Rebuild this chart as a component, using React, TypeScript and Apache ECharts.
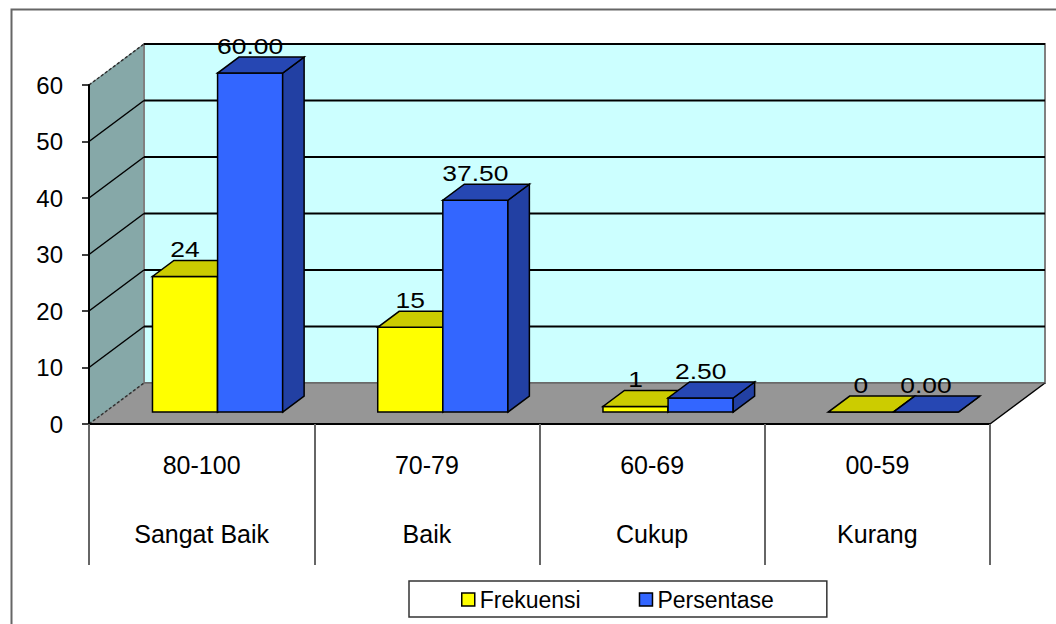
import React, { useEffect, useRef } from "react";
import * as echarts from "echarts";

const categories = ["80-100", "70-79", "60-69", "00-59"];
const categoryNames = ["Sangat Baik", "Baik", "Cukup", "Kurang"];
const frekuensi = [24, 15, 1, 0];
const persentase = [60, 37.5, 2.5, 0];
const yTicks = [0, 10, 20, 30, 40, 50, 60];

const FONT = "'Liberation Sans', Arial, sans-serif";
const DX = 55;
const DY = -41;
const D0 = 0.29;
const D1 = 0.68;
const BAR_FRAC = 0.289;

function wallsRender(params: any, api: any) {
  const cs = params.coordSys;
  const x0 = cs.x;
  const x1 = cs.x + cs.width;
  const yTop = api.coord([0, 60])[1];
  const yBot = api.coord([0, 0])[1];
  return {
    type: "group",
    children: [
      {
        type: "polygon",
        shape: { points: [[x0, yBot], [x0, yTop], [x0 + DX, yTop + DY], [x0 + DX, yBot + DY]] },
        style: { fill: "#86A8A8", stroke: "#6A8888", lineWidth: 1 },
      },
      {
        type: "rect",
        shape: { x: x0 + DX, y: yTop + DY, width: x1 - x0, height: yBot - yTop },
        style: { fill: "#CCFFFF", stroke: "#808080", lineWidth: 2 },
      },
      {
        type: "polygon",
        shape: { points: [[x0, yBot], [x1, yBot], [x1 + DX, yBot + DY], [x0 + DX, yBot + DY]] },
        style: { fill: "#969696" },
      },
      {
        type: "line",
        shape: { x1: x1, y1: yBot, x2: x1 + DX, y2: yBot + DY },
        style: { stroke: "#000", lineWidth: 1.5 },
      },
    ],
  };
}

function gridRender(params: any, api: any) {
  const cs = params.coordSys;
  const x0 = cs.x;
  const x1 = cs.x + cs.width;
  const v = api.value(1);
  const y = api.coord([0, v])[1];
  const edge = v === 0 || v === 60;
  return {
    type: "group",
    children: [
      {
        type: "line",
        shape: { x1: x0 + DX, y1: y + DY, x2: x1 + DX, y2: y + DY },
        style: { stroke: v === 0 ? "#555" : "#000", lineWidth: v === 0 ? 1 : 2 },
      },
      {
        type: "line",
        shape: { x1: x0, y1: y, x2: x0 + DX, y2: y + DY },
        style: {
          stroke: edge ? "#333" : "#000",
          lineWidth: 1.5,
          lineDash: edge ? [3, 2] : null,
        },
      },
    ],
  };
}

function makeBarRender(side: number, front: string, top: string, sideCol: string, fmt: (v: number) => string) {
  return function (params: any, api: any) {
    const i = api.value(0);
    const v = api.value(1);
    const base = api.coord([i, 0]);
    const cx = base[0];
    const y0 = base[1];
    const yv = api.coord([i, v])[1];
    const bw = api.size([1, 0])[0];
    const w = bw * BAR_FRAC;
    const fx = (side === 0 ? cx - w : cx) + D0 * DX;
    const fy0 = y0 + D0 * DY;
    const fyv = yv + D0 * DY;
    const ddx = (D1 - D0) * DX;
    const ddy = (D1 - D0) * DY;
    const stroke = { stroke: "#000", lineWidth: 1.5, lineJoin: "miter" };
    return {
      type: "group",
      children: [
        {
          type: "polygon",
          shape: { points: [[fx, fy0], [fx + w, fy0], [fx + w, fyv], [fx, fyv]] },
          style: { fill: front, ...stroke },
        },
        {
          type: "polygon",
          shape: { points: [[fx + w, fy0], [fx + w + ddx, fy0 + ddy], [fx + w + ddx, fyv + ddy], [fx + w, fyv]] },
          style: { fill: sideCol, ...stroke },
        },
        {
          type: "polygon",
          shape: { points: [[fx, fyv], [fx + w, fyv], [fx + w + ddx, fyv + ddy], [fx + ddx, fyv + ddy]] },
          style: { fill: top, ...stroke },
        },
        {
          type: "text",
          x: fx + w / 2,
          y: fyv + ddy - 11,
          scaleX: 1.2,
          style: {
            x: 0,
            y: 0,
            text: fmt(v),
            font: `22px ${FONT}`,
            fill: "#000",
            align: "center",
            verticalAlign: "middle",
          },
        },
      ],
    };
  };
}

export default function App() {
  const ref = useRef<HTMLDivElement>(null);
  useEffect(() => {
    if (!ref.current) return;
    const chart = echarts.init(ref.current, undefined, { renderer: "svg" });
    chart.setOption({
      animation: false,
      backgroundColor: "#fff",
      textStyle: { fontFamily: FONT },
      grid: { left: 89, right: 66, top: 85, bottom: 200 },
      graphic: [
        {
          type: "rect",
          left: 9,
          top: 7,
          shape: { x: 0, y: 0, width: 1100, height: 700 },
          style: { fill: "none", stroke: "#666", lineWidth: 2 },
          silent: true,
          z: -1,
        },
      ],
      legend: {
        left: 409,
        top: 581,
        orient: "horizontal",
        itemWidth: 13,
        itemHeight: 13,
        itemGap: 58,
        padding: [7, 53, 6, 52],
        borderColor: "#333",
        borderWidth: 1.5,
        textStyle: { fontSize: 23, fontFamily: FONT, color: "#000" },
        data: [
          { name: "Frekuensi", icon: "rect", itemStyle: { color: "#FFFF00", borderColor: "#000", borderWidth: 1.5 } },
          { name: "Persentase", icon: "rect", itemStyle: { color: "#3366FF", borderColor: "#000", borderWidth: 1.5 } },
        ],
      },
      xAxis: {
        type: "category",
        data: categories,
        boundaryGap: true,
        z: 10,
        axisLine: { show: true, lineStyle: { color: "#000", width: 2 } },
        axisTick: { show: true, interval: 0, length: 141, lineStyle: { color: "#666", width: 2 } },
        axisLabel: {
          interval: 0,
          margin: 6,
          fontSize: 25,
          fontFamily: FONT,
          color: "#000",
          lineHeight: 69,
          formatter: (v: string, i: number) => `${v}\n${categoryNames[i]}`,
        },
        splitLine: { show: false },
      },
      yAxis: {
        type: "value",
        min: 0,
        max: 60,
        interval: 10,
        z: 10,
        axisLine: { show: true, lineStyle: { color: "#000", width: 2 } },
        axisTick: { show: true, length: 7, lineStyle: { color: "#000", width: 1.5 } },
        axisLabel: { margin: 26, fontSize: 24, fontFamily: FONT, color: "#000" },
        splitLine: { show: false },
      },
      series: [
        {
          name: "walls",
          type: "custom",
          z: 1,
          silent: true,
          data: [[0, 0]],
          renderItem: wallsRender,
        },
        {
          name: "grid",
          type: "custom",
          z: 2,
          silent: true,
          data: yTicks.map((v) => [0, v]),
          renderItem: gridRender,
        },
        {
          name: "Frekuensi",
          type: "custom",
          z: 3,
          itemStyle: { color: "#FFFF00" },
          data: frekuensi.map((v, i) => [i, v]),
          renderItem: makeBarRender(0, "#FFFF00", "#CCCC00", "#B8B800", (v) => String(v)),
        },
        {
          name: "Persentase",
          type: "custom",
          z: 4,
          itemStyle: { color: "#3366FF" },
          data: persentase.map((v, i) => [i, v]),
          renderItem: makeBarRender(1, "#3366FF", "#2647B3", "#2240A3", (v) => v.toFixed(2)),
        },
      ],
    });
    return () => chart.dispose();
  }, []);
  return (
    <div
      ref={ref}
      style={{ position: "absolute", left: 0, top: 0, width: 1056, height: 624 }}
    />
  );
}
